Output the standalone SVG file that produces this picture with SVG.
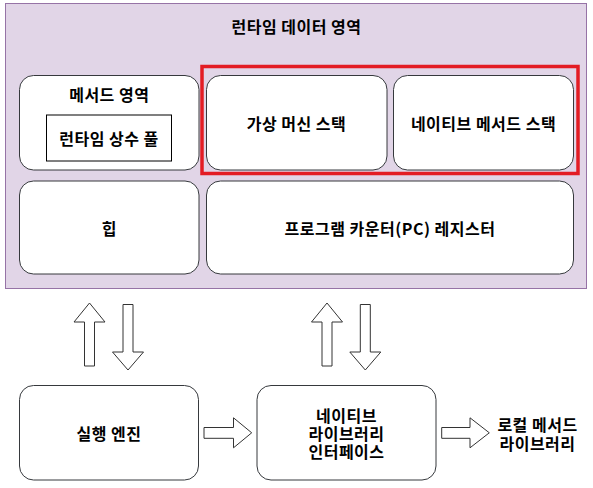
<svg xmlns="http://www.w3.org/2000/svg" width="593" height="488" viewBox="0 0 593 488">
<style>
text{font-family:"Noto Sans CJK KR","Liberation Sans",sans-serif;font-size:16px;font-weight:700;letter-spacing:0.5px;fill:#000;text-anchor:middle;dominant-baseline:central}
.box{fill:#fff;stroke:#36393d;stroke-width:1}
.arrow{fill:#fff;stroke:#333;stroke-width:1;stroke-linejoin:miter}
</style>
<rect width="593" height="488" fill="#fff"/>
<g id="runtime-data-area">
<rect x="5.5" y="3.5" width="581" height="285" fill="#e1d5e7" stroke="#9673a6" stroke-width="1"/>
<text x="296.5" y="25.5">런타임 데이터 영역</text>
</g>
<g id="method-area">
<rect class="box" x="19.5" y="75.5" width="179.5" height="94.5" rx="14" ry="14"/>
<text x="109.3" y="94">메서드 영역</text>
</g>
<g id="runtime-constant-pool">
<rect x="46.5" y="115" width="125" height="46" fill="#fff" stroke="#000" stroke-width="1"/>
<text x="109" y="138">런타임 상수 풀</text>
</g>
<g id="vm-stack">
<rect class="box" x="206.5" y="75.5" width="180.5" height="94.5" rx="14" ry="14"/>
<text x="296.5" y="122.5">가상 머신 스택</text>
</g>
<g id="native-method-stack">
<rect class="box" x="393.5" y="75.5" width="180" height="94.5" rx="14" ry="14"/>
<text x="483.5" y="122.5">네이티브 메서드 스택</text>
</g>
<g id="thread-group">
<rect x="202" y="66.5" width="376" height="107" fill="none" stroke="#e31c24" stroke-width="3.5"/>
</g>
<g id="heap">
<rect class="box" x="19.5" y="181" width="179.5" height="93" rx="14" ry="14"/>
<text x="109.3" y="227.5">힙</text>
</g>
<g id="pc-register">
<rect class="box" x="206.5" y="181" width="367" height="93" rx="14" ry="14"/>
<text x="390" y="227.5">프로그램 카운터(PC) 레지스터</text>
</g>
<g id="execution-engine">
<rect class="box" x="19.5" y="385.5" width="179" height="94.5" rx="14" ry="14"/>
<text x="109" y="433">실행 엔진</text>
</g>
<g id="native-library-interface">
<rect class="box" x="257" y="385.5" width="179" height="94.5" rx="14" ry="14"/>
<text x="346.5" y="414.7"><tspan x="346.5" y="414.7">네이티브</tspan><tspan x="346.5" y="432.7">라이브러리</tspan><tspan x="346.5" y="450.7">인터페이스</tspan></text>
</g>
<g id="native-method-library">
<text x="537.5" y="423.5"><tspan x="537.5" y="423.5">로컬 메서드</tspan><tspan x="537.5" y="443">라이브러리</tspan></text>
</g>
<g id="connectors">
<polygon class="arrow" points="89.5,303 105,322 94.5,322 94.5,366 84.5,366 84.5,322 74,322"/>
<polygon class="arrow" points="123,304.5 133,304.5 133,352 143.5,352 128,370 112.5,352 123,352"/>
<polygon class="arrow" points="327,303 342.5,322 332,322 332,366 322,366 322,322 311.5,322"/>
<polygon class="arrow" points="360.3,304.5 370.3,304.5 370.3,352 380.8,352 365.3,370 349.8,352 360.3,352"/>
<polygon class="arrow" points="204,427.5 233.5,427.5 233.5,417.8 251.7,432.8 233.5,447.8 233.5,438.3 204,438.3"/>
<polygon class="arrow" points="441.7,427.5 470,427.5 470,417.8 489.3,432.8 470,447.8 470,438.3 441.7,438.3"/>
</g>
</svg>
